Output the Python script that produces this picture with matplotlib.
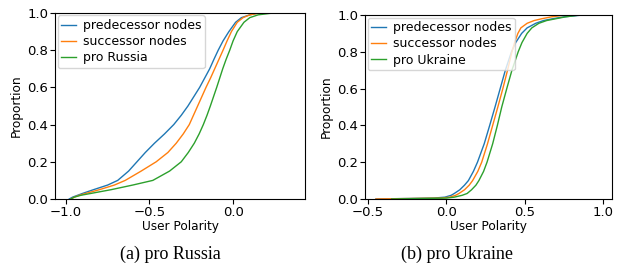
import matplotlib
matplotlib.use("Agg")
import matplotlib.pyplot as plt

# cumulative proportion levels and the polarity value reached at each level
levels_ru = [0, 0.01, 0.02, 0.03, 0.05, 0.075, 0.1, 0.15, 0.2, 0.25, 0.3, 0.35, 0.4, 0.45,
             0.5, 0.55, 0.6, 0.65, 0.7, 0.75, 0.8, 0.85, 0.9, 0.95, 0.975, 0.99, 1.0]
ru_pred = [-0.98, -0.96, -0.93, -0.9, -0.835, -0.75, -0.69, -0.625, -0.575, -0.525, -0.47, -0.41, -0.355, -0.31,
           -0.27, -0.235, -0.2, -0.17, -0.14, -0.115, -0.089, -0.06, -0.025, 0.015, 0.05, 0.1, 0.15]
ru_succ = [-0.97, -0.95, -0.92, -0.88, -0.80, -0.71, -0.645, -0.55, -0.46, -0.39, -0.34, -0.298, -0.262, -0.237,
           -0.212, -0.187, -0.162, -0.135, -0.11, -0.085, -0.06, -0.036, -0.01, 0.025, 0.06, 0.1, 0.16]
ru_group = [-0.97, -0.95, -0.91, -0.85, -0.73, -0.6, -0.48, -0.38, -0.31, -0.268, -0.232, -0.203, -0.178, -0.156,
            -0.136, -0.117, -0.098, -0.08, -0.062, -0.042, -0.02, 0.0, 0.025, 0.065, 0.10, 0.15, 0.24]

levels_ua = [0, 0.005, 0.01, 0.02, 0.03, 0.05, 0.075, 0.1, 0.15, 0.2, 0.3, 0.4,
             0.5, 0.6, 0.7, 0.8, 0.85, 0.9, 0.93, 0.955, 0.97, 0.98, 0.99, 1.0]
ua_pred = [-0.45, -0.08, -0.01, 0.03, 0.05, 0.085, 0.115, 0.14, 0.172, 0.198, 0.241, 0.276,
           0.31, 0.343, 0.376, 0.415, 0.442, 0.48, 0.515, 0.57, 0.62, 0.68, 0.75, 0.87]
ua_succ = [-0.45, -0.03, 0.02, 0.058, 0.08, 0.115, 0.145, 0.167, 0.2, 0.225, 0.262, 0.295,
           0.328, 0.36, 0.39, 0.418, 0.435, 0.456, 0.475, 0.515, 0.56, 0.61, 0.67, 0.76]
ua_group = [-0.35, 0.0, 0.05, 0.1, 0.132, 0.16, 0.188, 0.207, 0.237, 0.259, 0.295, 0.325,
            0.353, 0.385, 0.418, 0.458, 0.482, 0.515, 0.545, 0.59, 0.64, 0.70, 0.76, 0.85]

panels = [
    (levels_ru, ru_pred, ru_succ, ru_group, "pro Russia", [-1.0, -0.5, 0.0], (-1.065, 0.43), "(a) pro Russia"),
    (levels_ua, ua_pred, ua_succ, ua_group, "pro Ukraine", [-0.5, 0.0, 0.5, 1.0], (-0.52, 1.057), "(b) pro Ukraine"),
]

fig = plt.figure(figsize=(6.19, 2.75), dpi=100)
axes = [fig.add_axes([0.0889, 0.2764, 0.4038, 0.6764]),
        fig.add_axes([0.5897, 0.2764, 0.3990, 0.6690])]
cap_x = [0.275, 0.738]

for ax, (lv, pred, succ, grp, name, xt, xl, cap), cx in zip(axes, panels, cap_x):
    ax.plot(pred, lv, color="tab:blue", lw=1.0, label="predecessor nodes")
    ax.plot(succ, lv, color="tab:orange", lw=1.0, label="successor nodes")
    ax.plot(grp, lv, color="tab:green", lw=1.0, label=name)
    ax.set_xlim(*xl)
    ax.set_ylim(0, 1.0)
    ax.set_xticks(xt)
    ax.set_yticks([0, 0.2, 0.4, 0.6, 0.8, 1.0])
    ax.tick_params(labelsize=9.5, length=3.5, pad=1.5)
    ax.set_xlabel("User Polarity", fontsize=8.7, labelpad=0.5)
    ax.set_ylabel("Proportion", fontsize=8.7, labelpad=3)
    ax.legend(loc="upper left", fontsize=9, borderaxespad=0.2,
              handlelength=1.2, handletextpad=0.5, labelspacing=0.25,
              borderpad=0.3)
    fig.text(cx, 0.076, cap, ha="center", va="center",
             fontsize=13, family="Liberation Serif")

plt.savefig("out.png", dpi=100)
